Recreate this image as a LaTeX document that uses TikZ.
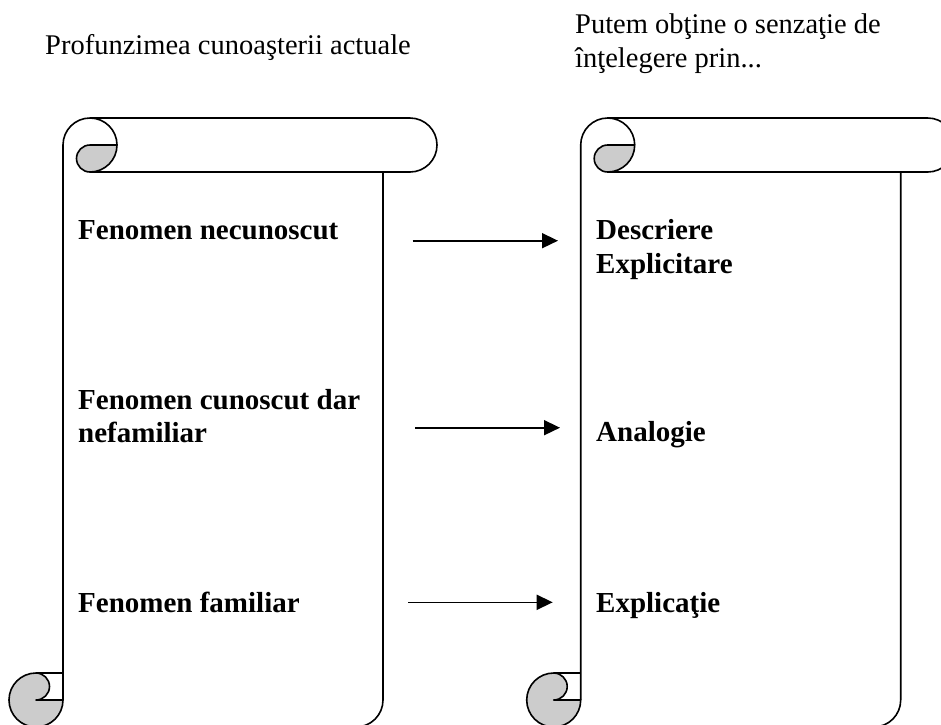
\documentclass[tikz,border=0pt]{standalone}
\usepackage{fontspec}
\setmainfont{Liberation Serif}
\usetikzlibrary{arrows.meta}
\begin{document}
\begin{tikzpicture}[x=1pt,y=1pt,
  outline/.style={draw=black, line width=1.6pt, line join=round},
  curl/.style={outline, fill=gray!40},
  plain text/.style={inner sep=0pt, anchor=base west, font=\fontsize{28.5}{33}\selectfont},
  bold text/.style={inner sep=0pt, anchor=base west, font=\fontsize{29}{33}\selectfont\bfseries},
  link/.style={line width=1.6pt, -{Triangle[length=16pt,width=15pt]}},
  scroll/.pic={
    % left edge and top roll
    \draw[outline] (63,-700) -- (63,-145) arc[start angle=180,end angle=0,radius=27];
    \draw[outline] (90,-118) -- (410,-118) arc[start angle=90,end angle=-90,radius=27] -- (90,-172);
    % curled corner of the top roll
    \draw[curl] (90,-145) -- (117,-145) arc[start angle=0,end angle=-90,radius=27]
      arc[start angle=270,end angle=90,radius=13.5] -- cycle;
    % right edge and bottom
    \draw[outline] (383,-172) -- (383,-700) arc[start angle=0,end angle=-90,radius=27] -- (36,-727);
    % bottom roll
    \draw[outline] (36,-673) -- (63,-673);
    \draw[curl] (36,-673) arc[start angle=90,end angle=360,radius=27] -- (36,-700)
      arc[start angle=270,end angle=450,radius=13.5] -- cycle;
  }]
\useasboundingbox (0,0) rectangle (941,-724);
\clip (0,0) rectangle (941,-724);
\fill[white] (0,0) rectangle (941,-724);

\pic (leftscroll) at (0,0) {scroll};
\pic (rightscroll) at (517.7,0) {scroll};

% headings
\node[plain text] (depth) at (45,-54) {Profunzimea cunoaşterii actuale};
\node[plain text] (gain1) at (575,-33) {Putem obţine o senzaţie de};
\node[plain text] (gain2) at (575,-67) {înţelegere prin...};

% left column
\node[bold text] (unknown) at (78,-239) {Fenomen necunoscut};
\node[bold text] (known1) at (78,-409) {Fenomen cunoscut dar};
\node[bold text] (known2) at (78,-442) {nefamiliar};
\node[bold text] (familiar) at (78,-612) {Fenomen familiar};

% right column
\node[bold text] (descr) at (596,-239) {Descriere};
\node[bold text] (explicit) at (596,-273) {Explicitare};
\node[bold text] (analogy) at (596,-441) {Analogie};
\node[bold text] (explain) at (596,-612) {Explicaţie};

% arrows
\coordinate (a1s) at (412.7,-240.7);
\coordinate (a1e) at (558,-240.7);
\coordinate (a2s) at (415,-427.7);
\coordinate (a2e) at (560,-427.7);
\coordinate (a3s) at (408,-602.3);
\coordinate (a3e) at (552.7,-602.3);
\draw[link] (a1s) -- (a1e);
\draw[link] (a2s) -- (a2e);
\draw[link] (a3s) -- (a3e);
\end{tikzpicture}
\end{document}
